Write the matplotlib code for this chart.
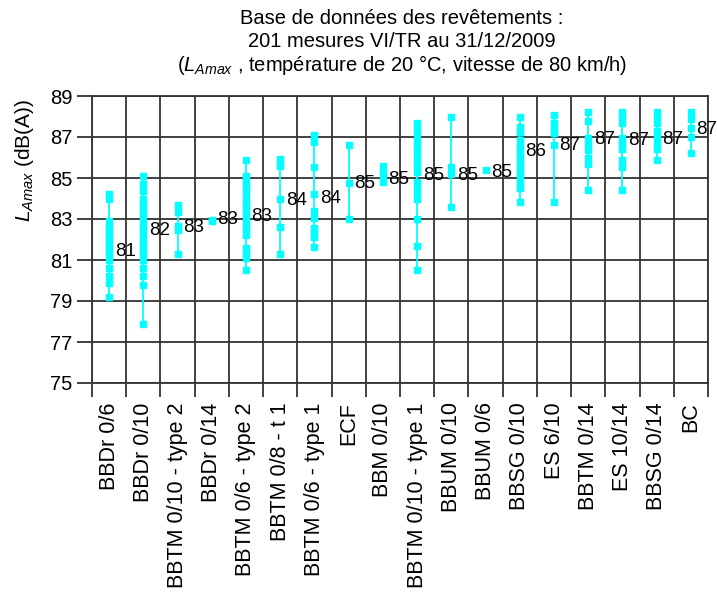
import matplotlib
matplotlib.use('Agg')
import matplotlib.pyplot as plt

plt.rcParams['font.family'] = ['Liberation Sans', 'DejaVu Sans']
plt.rcParams['mathtext.fontset'] = 'custom'
plt.rcParams['mathtext.rm'] = 'Liberation Sans'
plt.rcParams['mathtext.it'] = 'Liberation Sans:italic'

categories = ["BBDr 0/6", "BBDr 0/10", "BBTM 0/10 - type 2", "BBDr 0/14",
              "BBTM 0/6 - type 2", "BBTM 0/8 - t 1", "BBTM 0/6 - type 1", "ECF",
              "BBM 0/10", "BBTM 0/10 - type 1", "BBUM 0/10", "BBUM 0/6",
              "BBSG 0/10", "ES 6/10", "BBTM 0/14", "ES 10/14", "BBSG 0/14", "BC"]

bbdr_06 = [84.2, 84.0, 82.9, 82.6, 82.4, 82.2, 82.0, 81.8, 81.6, 81.4, 81.2, 81.0, 80.6, 80.2, 79.9, 79.2]
bbdr_010 = [85.1, 84.7, 84.35, 84.0, 83.7, 83.4, 83.1, 82.8, 82.5, 82.2, 81.9, 81.6, 81.3, 81.0, 80.6, 80.2, 79.8, 77.9]
bbtm_010_t2 = [83.7, 83.35, 82.65, 82.45, 81.3]
bbdr_014 = [82.95, 82.9]
bbtm_06_t2 = [85.9, 85.1, 84.9, 84.6, 84.3, 84.0, 83.7, 83.4, 83.1, 82.8, 82.5, 82.2, 81.6, 81.3, 81.1, 80.5]
bbtm_08_t1 = [85.95, 85.6, 84.0, 82.6, 81.3]
bbtm_06_t1 = [87.1, 86.75, 85.55, 84.2, 83.4, 83.05, 82.55, 82.3, 82.1, 81.65]
ecf = [86.6, 84.75, 83.0]
bbm_010 = [85.6, 85.25, 85.0, 84.8]
bbtm_010_t1 = [87.7, 87.4, 87.2, 86.85, 86.6, 86.4, 86.1, 85.8, 85.5, 85.3, 84.8, 84.5, 84.3, 84.0, 83.0, 81.7, 80.5]
bbum_010 = [88.0, 85.55, 85.2, 83.6]
bbum_06 = [85.4]
bbsg_010 = [88.0, 87.5, 87.25, 86.85, 86.5, 86.2, 85.9, 85.6, 85.3, 85.0, 84.8, 84.5, 83.85]
es_610 = [88.05, 87.7, 87.4, 87.2, 86.6, 83.85]
bbtm_014 = [88.2, 87.8, 86.95, 86.6, 86.35, 86.0, 85.7, 84.4]
es_1014 = [88.2, 88.0, 87.7, 86.95, 86.7, 86.4, 85.9, 85.55, 84.4]
bbsg_014 = [88.2, 88.0, 87.7, 87.3, 87.0, 86.7, 86.4, 85.9]
bc = [88.2, 87.9, 87.45, 87.0, 86.2]

measurements = [bbdr_06, bbdr_010, bbtm_010_t2, bbdr_014, bbtm_06_t2, bbtm_08_t1,
                bbtm_06_t1, ecf, bbm_010, bbtm_010_t1, bbum_010, bbum_06,
                bbsg_010, es_610, bbtm_014, es_1014, bbsg_014, bc]

mean_levels = [81.4, 82.45, 82.6, 83.0, 83.1, 83.9, 84.0, 84.75, 84.95, 85.1,
               85.1, 85.25, 86.3, 86.6, 86.9, 86.85, 86.9, 87.35]

y_ticks = [75, 77, 79, 81, 83, 85, 87, 89]

W, H = 717, 603
fig = plt.figure(figsize=(W / 100, H / 100), dpi=100)
ax = fig.add_axes([92 / W, 1 - 383 / H, 616 / W, 287 / H])

grid_color = '#333333'
cyan = '#00ffff'

for i, vals in enumerate(measurements):
    ax.plot([i, i], [min(vals), max(vals)], color=cyan, lw=1.3, zorder=3)
    ax.plot([i] * len(vals), vals, linestyle='none', marker='s', ms=4.6,
            color=cyan, mec=cyan, zorder=4)
    ax.annotate(f"{mean_levels[i]:.0f}", (i, mean_levels[i]), xytext=(4, 0),
                textcoords='offset points', ha='left', va='center',
                fontsize=13.5, color='black', zorder=5)

ax.set_xlim(-0.5, len(categories) - 0.5)
ax.set_ylim(75, 89)
ax.set_yticks(y_ticks)
ax.set_xticks(range(len(categories)))
ax.set_xticklabels(categories, rotation=90, fontsize=15.5)
ax.set_xticks([b - 0.5 for b in range(len(categories) + 1)], minor=True)
ax.tick_params(axis='x', which='major', length=0, pad=14)
ax.tick_params(axis='x', which='minor', length=10, width=1.3, color=grid_color)
ax.tick_params(axis='y', which='major', length=11, width=1.3, color=grid_color,
               labelsize=14.5, pad=3)
ax.grid(True, which='minor', axis='x', color=grid_color, lw=1.3)
ax.grid(True, which='major', axis='y', color=grid_color, lw=1.3)
for s in ax.spines.values():
    s.set_color(grid_color)
    s.set_linewidth(1.3)
ax.set_axisbelow(True)

fig.text(25 / W, 1 - 160 / H, r"$L_{Amax}$ (dB(A))", rotation=90,
         ha='center', va='center', fontsize=15)

title_lines = ["Base de données des revêtements :",
               "201 mesures VI/TR au 31/12/2009",
               r"($L_{Amax}$ , température de 20 °C, vitesse de 80 km/h)"]
for k, line in enumerate(title_lines):
    fig.text(402 / W, 1 - (18 + 23.5 * k) / H, line, ha='center', va='center',
             fontsize=14.5)

fig.savefig('out.png', dpi=100)
